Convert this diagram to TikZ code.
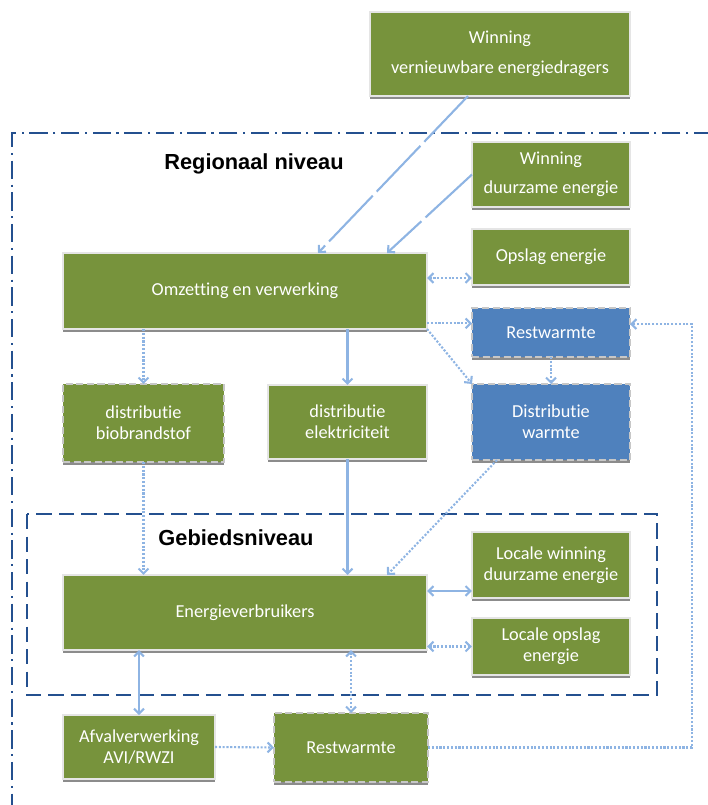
\documentclass[tikz,border=0pt]{standalone}
\usepackage{fontspec}
\setmainfont{Carlito}[Ligatures=NoCommon]
\newfontfamily\kopfont{Liberation Sans}
\usetikzlibrary{arrows.meta,shadows}

\definecolor{boxgroen}{HTML}{77933C}
\definecolor{boxblauw}{HTML}{4F81BD}
\definecolor{pijl}{HTML}{8EB4E3}
\definecolor{kader}{HTML}{24508F}

\begin{document}
\begin{tikzpicture}[x=0.025cm, y=-0.025cm, >={Straight Barb[length=3.5pt,width=7pt]},
        blok/.style={draw=white!80!gray, line width=1pt, fill=boxgroen, text=white,
            align=center, font=\fontsize{13}{15}\selectfont, inner sep=0pt, outer sep=0pt,
            drop shadow={shadow xshift=0pt, shadow yshift=-1.8pt, fill=black!45, opacity=1}},
        los/.style={blok, draw=black!22, dash pattern=on 5pt off 2.5pt, line width=2pt},
        warm/.style={los, fill=boxblauw},
        vol/.style={draw=pijl, line width=1.5pt},
        stip/.style={vol, dash pattern=on 1.5pt off 1.2pt},
        lang/.style={vol, dash pattern=on 45pt off 4pt},
        niveau/.style={font=\kopfont\bfseries\fontsize{15.5}{18}\selectfont}]
    \useasboundingbox (0,0) rectangle (708,805);

    % kaders
    \draw[kader, line width=1.6pt, dash pattern=on 13pt off 4pt on 1.5pt off 4pt] (712,133) -| (12,810);
    \draw[kader, line width=1.6pt, dash pattern=on 11pt off 5pt] (27,514) rectangle (657,695);
    \node[niveau] (regio) at (254,164) {Regionaal niveau};
    \node[niveau] (gebied) at (236,538) {Gebiedsniveau};

    % regionaal niveau
    \node[blok, minimum width=6.5cm, minimum height=2.1cm] (winv) at (500,54) {Winning\\[6pt]vernieuwbare energiedragers};
    \node[blok, minimum width=3.95cm, minimum height=1.625cm] (wind) at (551,174.5) {Winning\\[6pt]duurzame energie};
    \node[blok, minimum width=3.95cm, minimum height=1.4cm] (opsl) at (551,257) {Opslag energie};
    \node[warm, minimum width=3.95cm, minimum height=1.225cm] (rest1) at (551,332.5) {Restwarmte};
    \node[warm, minimum width=3.95cm, minimum height=1.9cm] (distw) at (551,422) {Distributie\\warmte};
    \node[blok, minimum width=9.1cm, minimum height=1.9cm] (omz) at (245,291) {Omzetting en verwerking};
    \node[los, minimum width=4.025cm, minimum height=1.95cm] (distb) at (143.5,423) {distributie\\biobrandstof};
    \node[blok, minimum width=3.975cm, minimum height=1.85cm] (diste) at (347.5,422) {distributie\\elektriciteit};

    % gebiedsniveau
    \node[blok, minimum width=9.1cm, minimum height=1.875cm] (verbr) at (245,612.5) {Energieverbruikers};
    \node[blok, minimum width=3.95cm, minimum height=1.65cm] (lwin) at (551,565) {Locale winning\\duurzame energie};
    \node[blok, minimum width=3.95cm, minimum height=1.425cm] (lops) at (551,646.5) {Locale opslag\\energie};
    \node[blok, minimum width=3.8cm, minimum height=1.6cm] (afv) at (139,747) {Afvalverwerking\\AVI/RWZI};
    \node[los, minimum width=3.85cm, minimum height=1.725cm] (rest2) at (351,747.5) {Restwarmte};

    % stromen
    \draw[lang,->] ([xshift=-0.8cm]winv.south) -- ([xshift=1.825cm]omz.north);
    \draw[lang,->] (wind.west) -- ([xshift=3.55cm]omz.north);
    \draw[stip,<->] ([yshift=5pt]omz.east |- opsl.south) -- ([yshift=5pt]opsl.south west);
    \draw[stip,->] ([yshift=4pt]omz.south east) -- ([yshift=4pt]omz.south east -| rest1.west);
    \draw[stip,->] (omz.south east) -- (distw.north west);
    \draw[stip,->] (rest1) -- (distw);
    \draw[stip,->] (rest2.east) -- ++(264,0) |- ([yshift=6pt]rest1.east);
    \draw[stip,->] (distb.north |- omz.south) -- (distb.north);
    \draw[vol,->] (diste.north |- omz.south) -- (diste.north);
    \draw[stip,->] (distb.south) -- (distb.south |- verbr.north);
    \draw[vol,->] (diste.south) -- (diste.south |- verbr.north);
    \draw[stip,->] ([xshift=0.625cm]distw.south west) -- ([xshift=3.55cm]verbr.north);
    \draw[vol,<->] ([yshift=5pt]verbr.east |- lwin.south) -- ([yshift=5pt]lwin.south west);
    \draw[stip,<->] (verbr.east |- lops.west) -- (lops.west);
    \draw[vol,<->] (afv.north |- verbr.south) -- (afv.north);
    \draw[stip,<->] (rest2.north |- verbr.south) -- (rest2.north);
    \draw[stip,->] (afv.east) -- (rest2.west);
\end{tikzpicture}
\end{document}
